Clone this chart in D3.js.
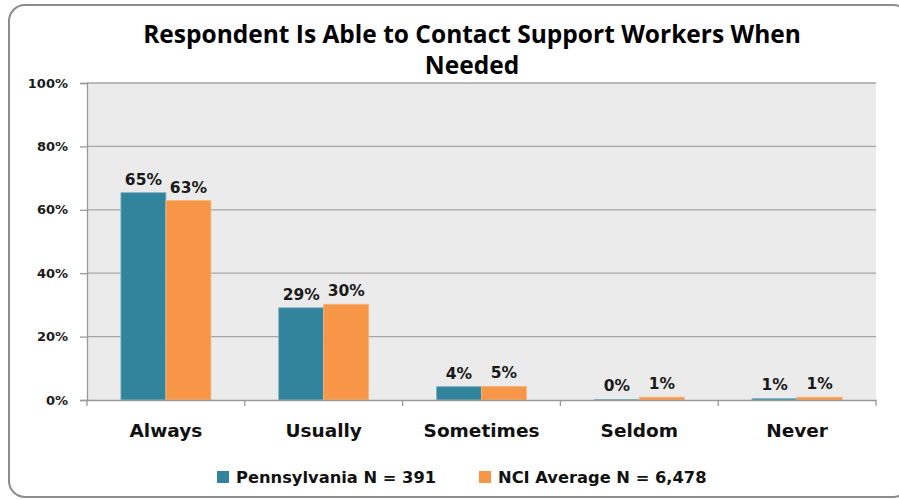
<!DOCTYPE html>
<html><head><meta charset="utf-8">
<script src="https://cdn.jsdelivr.net/npm/d3@7"></script>
<style>body{margin:0;background:#fff}svg{display:block}</style>
</head><body><div id="chart"></div>
<script>
const categories = ["Always","Usually","Sometimes","Seldom","Never"];
const seriesNames = ["Pennsylvania N = 391","NCI Average N = 6,478"];
const pennsylvania = [65.4, 29.1, 4.2, 0.2, 0.5];
const nciAverage = [62.9, 30.2, 4.3, 0.9, 0.9];
const pennLabels = ["65%","29%","4%","0%","1%"];
const nciLabels = ["63%","30%","5%","1%","1%"];
const yTicks = [0,20,40,60,80,100];
const titleLines = ["Respondent Is Able to Contact Support Workers When","Needed"];
const colors = ["#31849b","#f79646"];

const W=899,H=500;
const svg=d3.select("#chart").append("svg").attr("width",W).attr("height",H);
const m={l:87,r:876,t:83,b:400};
svg.append("rect").attr("x",9).attr("y",5).attr("width",900).attr("height",492).attr("rx",16)
  .attr("fill","#fff").attr("stroke","#8c8c8c").attr("stroke-width",2);
const x0=d3.scaleBand().domain(categories).range([m.l,m.r]).paddingInner(0).paddingOuter(0);
const y=d3.scaleLinear().domain([0,100]).range([m.b,m.t]);
const groupW=90;
const x1=d3.scaleBand().domain([0,1]).range([0,groupW]);
svg.append("rect").attr("x",m.l).attr("y",m.t).attr("width",m.r-m.l).attr("height",m.b-m.t).attr("fill","#ebebeb");
// gridlines
svg.append("g").selectAll("line").data(yTicks.slice(1)).join("line")
  .attr("x1",m.l).attr("x2",m.r).attr("y1",d=>y(d)).attr("y2",d=>y(d))
  .attr("stroke","#a6a6a6").attr("stroke-width",1.3);
// y axis
const yAx=svg.append("g").attr("transform",`translate(${m.l},0)`)
  .call(d3.axisLeft(y).tickValues(yTicks).tickFormat(d=>d+"%").tickSize(7).tickPadding(12));
yAx.select(".domain").attr("stroke","#999").attr("stroke-width",1.3);
yAx.selectAll(".tick line").attr("stroke","#999").attr("stroke-width",1.3);
yAx.selectAll("text").attr("font-family","DejaVu Sans").attr("font-weight","bold").attr("font-size",13).attr("fill","#1a1a1a");
// bars
const series=[pennsylvania,nciAverage], labels=[pennLabels,nciLabels];
series.forEach((vals,si)=>{
  const g=svg.append("g");
  g.selectAll("rect").data(vals).join("rect")
    .attr("x",(d,i)=>x0(categories[i])+(x0.bandwidth()-groupW)/2+x1(si))
    .attr("y",d=>y(d)).attr("width",x1.bandwidth()).attr("height",d=>m.b-y(d))
    .attr("fill",colors[si]).attr("stroke",si?"#fbb77f":"#7fb3c2").attr("stroke-width",0.8);
  g.selectAll("text").data(vals).join("text")
    .attr("x",(d,i)=>x0(categories[i])+(x0.bandwidth()-groupW)/2+x1(si)+x1.bandwidth()/2)
    .attr("y",d=>y(d)-8).attr("text-anchor","middle")
    .attr("font-family","DejaVu Sans").attr("font-weight","bold").attr("font-size",15.5).attr("fill","#1a1a1a")
    .text((d,i)=>labels[si][i]);
});
// x axis
const xAx=svg.append("g").attr("transform",`translate(0,${m.b})`)
  .call(d3.axisBottom(x0).tickSize(0).tickPadding(24));
xAx.select(".domain").attr("stroke","#999").attr("stroke-width",1.3);
xAx.selectAll("text").attr("font-family","DejaVu Sans").attr("font-weight","bold").attr("font-size",18.5).attr("fill","#111");
svg.append("g").selectAll("line").data(categories.map(c=>x0(c)).concat([m.r])).join("line")
  .attr("x1",d=>d).attr("x2",d=>d).attr("y1",m.b).attr("y2",m.b+6).attr("stroke","#999").attr("stroke-width",1.3);
// title
svg.append("g").selectAll("text").data(titleLines).join("text")
  .attr("x",472).attr("y",(d,i)=>43+i*31).attr("text-anchor","middle")
  .attr("font-family","Open Sans").attr("font-weight","bold").attr("font-size",24.5).attr("fill","#000")
  .text(d=>d);
// legend
const lg=svg.append("g");
const lx=[217,479];
seriesNames.forEach((n,i)=>{
  lg.append("rect").attr("x",lx[i]).attr("y",471).attr("width",12).attr("height",12).attr("fill",colors[i]);
  lg.append("text").attr("x",lx[i]+19).attr("y",483).attr("font-family","DejaVu Sans").attr("font-weight","bold")
    .attr("font-size",16.3).attr("fill","#111").text(n);
});
</script></body></html>
